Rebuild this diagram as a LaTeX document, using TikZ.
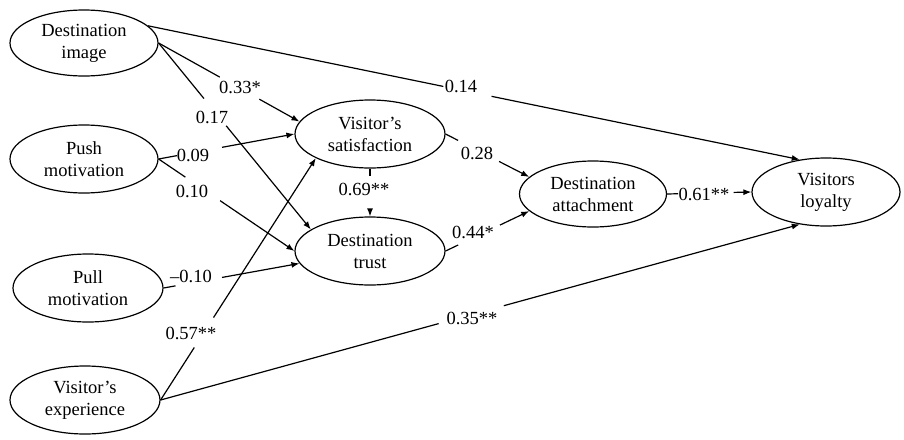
\documentclass[tikz,border=0pt]{standalone}
\usepackage{fontspec}
\setmainfont{Liberation Serif}
\usetikzlibrary{arrows.meta,calc,shapes.geometric}
\tikzset{
  var/.style={ellipse, draw, line width=1.2pt, minimum width=148pt, minimum height=64pt,
    inner sep=0pt, align=center, font=\fontsize{18.5}{22}\selectfont},
  conn/.style={line width=1.2pt},
  arr/.style={-{Latex[length=8pt,width=6pt]}},
  lbl/.style={font=\fontsize{18.5}{22}\selectfont, inner sep=0pt}
}
\newcommand{\gapline}[4]{%
  \draw[conn] (#1) -- ($(#1)!#3!(#2)$);
  \draw[conn,arr] ($(#1)!#4!(#2)$) -- (#2);}
\begin{document}
\begin{tikzpicture}[x=1pt,y=-1pt]
\useasboundingbox[fill=white] (0,0) rectangle (904,439);
% variables
\node[var, minimum width=148pt, minimum height=66pt] (di) at (84,43) {Destination\\image};
\node[var, minimum width=148pt, minimum height=68pt] (pm) at (84,159) {Push\\motivation};
\node[var, minimum width=150pt, minimum height=68pt] (pl) at (88,288) {Pull\\motivation};
\node[var, minimum width=150pt, minimum height=68pt] (ve) at (85,400) {Visitor’s\\experience};
\node[var, minimum width=150pt, minimum height=68pt] (vs) at (370,134) {Visitor’s\\satisfaction};
\node[var, minimum width=150pt, minimum height=68pt] (dt) at (370,251) {Destination\\trust};
\node[var, minimum width=147pt, minimum height=66pt] (da) at (593,194) {Destination\\attachment};
\node[var, minimum width=148pt, minimum height=68pt] (vl) at (826,192) {Visitors\\loyalty};
% paths
\gapline{di.15}{vl.129}{0.453}{0.527}
\gapline{di.east}{vs.170}{0.434}{0.715}
\gapline{di.east}{dt.160}{0.298}{0.444}
\gapline{pm.east}{vs.west}{0.135}{0.467}
\gapline{pm.east}{dt.west}{0.197}{0.453}
\gapline{pl.east}{dt.190}{0.088}{0.43}
\gapline{ve.east}{vs.204}{0.217}{0.341}
\gapline{ve.east}{vl.231}{0.435}{0.537}
\gapline{vs.south}{dt.north}{0.15}{0.87}
\gapline{vs.east}{da.165}{0.15}{0.64}
\gapline{dt.east}{da.195}{0.15}{0.65}
\gapline{da.east}{vl.west}{0.13}{0.79}
% labels
\node[lbl] (l1) at (461,86) {0.14};
\node[lbl] (l2) at (240,87) {0.33*};
\node[lbl] (l3) at (212,117) {0.17};
\node[lbl] (l4) at (193,155) {0.09};
\node[lbl] (l5) at (192,191) {0.10};
\node[lbl] (l6) at (191,276) {–0.10};
\node[lbl] (l7) at (191,333) {0.57**};
\node[lbl] (l8) at (472,318) {0.35**};
\node[lbl] (l9) at (364,189) {0.69**};
\node[lbl] (l10) at (477,153) {0.28};
\node[lbl] (l11) at (473,232) {0.44*};
\node[lbl] (l12) at (704,194) {0.61**};
\end{tikzpicture}
\end{document}
